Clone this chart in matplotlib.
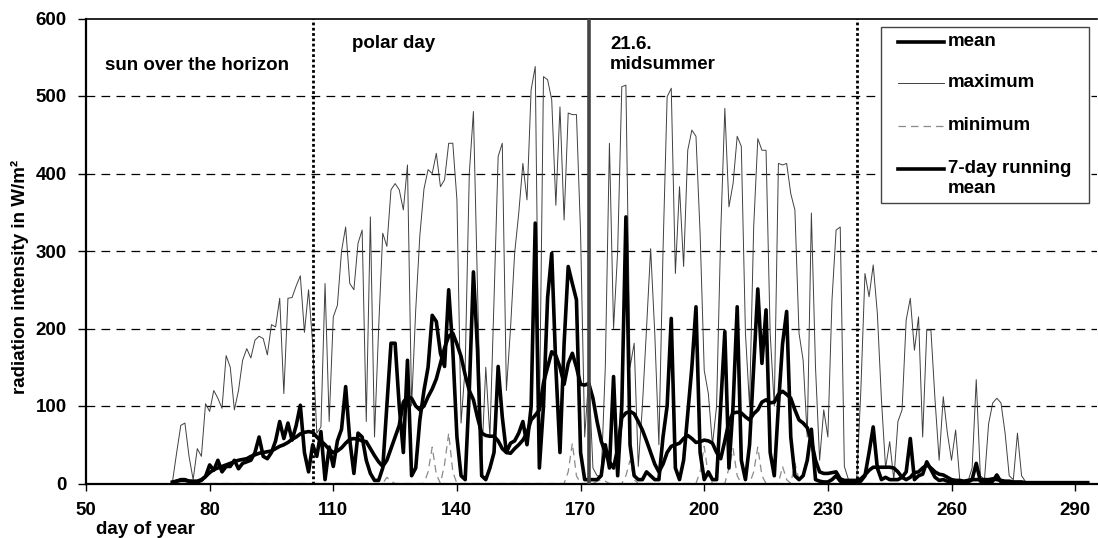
import matplotlib
matplotlib.use("Agg")
import matplotlib.pyplot as plt
from matplotlib.lines import Line2D
from matplotlib.patches import Rectangle

plt.rcParams['font.family'] = ['Liberation Sans', 'DejaVu Sans']
plt.rcParams['font.weight'] = 'bold'
plt.rcParams['font.size'] = 13.5

# ---------------- data ----------------
first_day = 71
max_values = [
    3, 40, 75, 78, 35, 5, 45, 35, 103, 93,
    120, 110, 97, 165, 150, 95, 120, 159, 174, 162,
    185, 190, 187, 166, 205, 202, 239, 116, 239, 240,
    255, 268, 195, 250, 180, 65, 73, 258, 80, 215,
    230, 300, 331, 258, 250, 310, 327, 80, 344, 60,
    200, 323, 306, 379, 387, 379, 353, 411, 100, 224,
    320, 380, 405, 400, 426, 383, 392, 439, 439, 366,
    78, 150, 400, 480, 250, 30, 150, 60, 237, 422,
    439, 120, 200, 297, 349, 413, 366, 508, 538, 80,
    525, 521, 495, 359, 486, 340, 478, 476, 476, 323,
    60, 140, 20, 10, 10, 150, 439, 200, 300, 512,
    514, 150, 181, 22, 100, 200, 303, 194, 50, 300,
    499, 510, 271, 383, 280, 430, 456, 448, 323, 146,
    116, 50, 100, 323, 484, 357, 387, 448, 435, 194,
    100, 331, 445, 430, 430, 194, 100, 413, 411, 413,
    374, 353, 194, 159, 60, 349, 150, 30, 95, 60,
    237, 327, 331, 22, 5, 3, 5, 120, 271, 241,
    282, 220, 108, 20, 54, 5, 80, 95, 211, 239,
    172, 215, 60, 198, 198, 108, 30, 112, 65, 30,
    69, 5, 3, 3, 20, 134, 10, 5, 77, 104,
    110, 104, 65, 10, 5, 65, 10, 2, 0,
]
mean_values = [
    1, 3, 5, 5, 3, 2, 2, 4, 9, 24,
    17, 30, 15, 22, 22, 30, 19, 26, 28, 30,
    40, 60, 35, 32, 40, 55, 80, 58, 78, 56,
    75, 101, 40, 15, 50, 35, 67, 5, 47, 22,
    55, 70, 125, 56, 13, 65, 60, 30, 13, 4,
    4, 20, 100, 181, 181, 100, 40, 159, 10, 20,
    82, 120, 150, 217, 209, 168, 151, 250, 172, 60,
    10, 5, 120, 273, 172, 10, 5, 20, 40, 151,
    86, 40, 52, 55, 65, 80, 50, 99, 336, 20,
    100, 240, 297, 150, 40, 180, 280, 258, 237, 40,
    5, 5, 5, 5, 10, 50, 20, 138, 10, 100,
    344, 50, 10, 5, 5, 15, 10, 5, 5, 60,
    100, 213, 20, 5, 30, 90, 150, 228, 40, 5,
    15, 5, 5, 100, 196, 20, 100, 228, 30, 5,
    50, 150, 251, 155, 224, 40, 10, 100, 180, 222,
    60, 10, 5, 10, 30, 70, 5, 3, 2, 2,
    5, 10, 3, 1, 1, 1, 1, 3, 10, 40,
    73, 20, 5, 8, 5, 5, 5, 8, 15, 58,
    5, 10, 12, 28, 18, 8, 4, 5, 3, 2,
    2, 2, 2, 2, 5, 26, 3, 2, 2, 3,
    11, 2, 1, 1, 1, 1, 1, 1, 1, 1,
    1, 1, 1, 1, 1, 1, 1, 1, 1, 1, 1, 1, 1,
]
running_mean_values = [
    2, 3, 4, 4, 3, 3, 3, 5, 9, 14,
    18, 20, 22, 24, 26, 28, 30, 31, 32, 35,
    37, 39, 40, 41, 42, 45, 48, 50, 53, 57,
    60, 64, 66, 67, 66, 60, 55, 50, 44, 40,
    42, 46, 52, 57, 58, 57, 55, 54, 45, 36,
    28, 22, 30, 45, 60, 75, 105, 112, 110, 100,
    95, 100, 112, 122, 135, 155, 175, 190, 194, 180,
    164, 140, 120, 108, 85, 65, 62, 61, 61, 55,
    45, 40, 39, 45, 50, 56, 65, 82, 88, 95,
    130, 150, 170, 165, 150, 128, 155, 168, 150, 128,
    127, 129, 110, 80, 55, 40, 28, 20, 45, 85,
    91, 93, 90, 80, 69, 55, 40, 25, 15, 25,
    40, 48, 50, 52, 58, 62, 58, 53, 54, 56,
    55, 52, 40, 32, 55, 80, 91, 92, 91, 86,
    82, 90, 95, 105, 108, 104, 105, 115, 119, 115,
    110, 95, 82, 78, 72, 55, 30, 15, 13, 13,
    14, 15, 6, 4, 4, 4, 4, 6, 11, 17,
    21, 21, 21, 21, 21, 20, 15, 8, 5, 8,
    14, 15, 20, 24, 20, 15, 12, 11, 8, 5,
    4, 4, 3, 4, 5, 5, 5, 5, 5, 6,
    5, 4, 3, 3, 2, 2, 2, 1, 1, 1,
    1, 1, 1, 1, 1, 1, 1, 1, 1, 1, 1, 1, 1,
]
min_values = [
    0, 0, 0, 0, 0, 0, 0, 0, 0, 0,
    0, 0, 0, 0, 0, 0, 0, 0, 0, 0,
    0, 0, 0, 0, 0, 0, 0, 0, 0, 0,
    0, 0, 0, 0, 0, 0, 0, 0, 0, 0,
    0, 0, 0, 0, 0, 0, 0, 0, 0, 0,
    0, 0, 8, 3, 0, 0, 0, 0, 0, 0,
    0, 0, 15, 47, 12, 0, 25, 65, 15, 0,
    0, 0, 0, 0, 0, 0, 0, 0, 0, 0,
    0, 0, 0, 0, 0, 0, 0, 0, 0, 0,
    0, 0, 0, 0, 0, 0, 15, 52, 10, 0,
    0, 0, 0, 3, 5, 3, 0, 0, 0, 0,
    10, 30, 5, 0, 0, 0, 0, 0, 0, 0,
    0, 0, 0, 0, 0, 0, 0, 0, 15, 48,
    10, 0, 0, 0, 0, 20, 45, 10, 0, 0,
    0, 15, 47, 10, 0, 0, 0, 0, 22, 5,
    0, 26, 5, 0, 0, 0, 0, 0, 0, 0,
    0, 0, 0, 0, 0, 0, 0, 0, 0, 0,
    0, 0, 0, 0, 0, 0, 0, 0, 0, 0,
    0, 0, 0, 0, 0, 0, 0, 0, 0, 0,
    0, 0, 0, 0, 0, 0, 0, 0, 0, 0,
    0, 0, 0, 0, 0, 0, 0, 0, 0, 0,
    0, 0, 0, 0, 0, 0, 0, 0, 0, 0, 0, 0, 0,
]
polar_day_start = 105
midsummer_day = 172
polar_day_end = 237
x_ticks = [50, 80, 110, 140, 170, 200, 230, 260, 290]
y_ticks = [0, 100, 200, 300, 400, 500, 600]

max_days = list(range(first_day, first_day + len(max_values)))
mean_days = list(range(first_day, first_day + len(mean_values)))
run_days = list(range(first_day, first_day + len(running_mean_values)))
min_days = list(range(first_day, first_day + len(min_values)))

# ---------------- figure ----------------
W, H = 1098, 538
fig = plt.figure(figsize=(W / 100, H / 100), dpi=100)
def fx(px):
    return px / W
def fy(py):
    return 1 - py / H

ax = fig.add_axes([fx(86), fy(483.5), fx(1097) - fx(86), fy(18.5) - fy(483.5)])
ax.set_xlim(50, 295.3)
ax.set_ylim(0, 600)
ax.set_xticks(x_ticks)
ax.set_yticks(y_ticks)

for v in y_ticks[1:-1]:
    ax.axhline(v, color='black', lw=0.9, linestyle=(0, (7, 5)), zorder=1)

ax.plot(min_days, min_values, color='#8a8a8a', lw=0.9, linestyle=(0, (6, 4)), zorder=2)
ax.plot(max_days, max_values, color='#404040', lw=0.7, zorder=3)
ax.plot(run_days, running_mean_values, color='black', lw=2.6, zorder=4,
        solid_joinstyle='round')
ax.plot(mean_days, mean_values, color='black', lw=2.6, zorder=5,
        solid_joinstyle='round')

ax.axvline(polar_day_start, color='black', lw=2, linestyle=(0, (1, 0.9)), zorder=6)
ax.axvline(polar_day_end, color='black', lw=2, linestyle=(0, (1, 0.9)), zorder=6)
ax.axvline(midsummer_day, color='#454545', lw=2.6, zorder=6)

ax.spines['right'].set_visible(False)
ax.spines['left'].set_linewidth(1.6)
ax.spines['bottom'].set_linewidth(1.6)
ax.spines['top'].set_linewidth(1.2)
ax.tick_params(axis='y', direction='out', length=6, width=1, pad=8)
ax.tick_params(axis='x', direction='out', length=5, width=1, pad=8)
for lab in ax.get_xticklabels() + ax.get_yticklabels():
    lab.set_fontweight('bold')

# annotations
fig.text(fx(105), fy(65), 'sun over the horizon', ha='left', va='center')
fig.text(fx(352), fy(43), 'polar day', ha='left', va='center')
fig.text(fx(610), fy(54.5), '21.6.\nmidsummer', ha='left', va='center', linespacing=1.2)
fig.text(fx(96), fy(530), 'day of year', ha='left', va='center')
fig.text(fx(20), fy(277), 'radiation intensity in W/m²', rotation=90,
         ha='center', va='center')

# legend box
fig.add_artist(Rectangle((fx(881), fy(203)), fx(1089) - fx(881), fy(27) - fy(203),
                         transform=fig.transFigure, facecolor='white',
                         edgecolor='#444444', lw=1.0, zorder=10))
legend_rows = [
    (42, 'mean', dict(color='black', lw=2.6)),
    (83, 'maximum', dict(color='#404040', lw=0.7)),
    (126, 'minimum', dict(color='#8a8a8a', lw=0.9, linestyle=(0, (6, 4)))),
    (169, '7-day running\nmean', dict(color='black', lw=2.6)),
]
for py, label, style in legend_rows:
    fig.add_artist(Line2D([fx(898), fx(944)], [fy(py), fy(py)],
                          transform=fig.transFigure, zorder=11, **style))
    fig.text(fx(948), fy(py - 9), label, ha='left', va='top',
             linespacing=1.2, zorder=11)

fig.savefig('out.png', dpi=100)
